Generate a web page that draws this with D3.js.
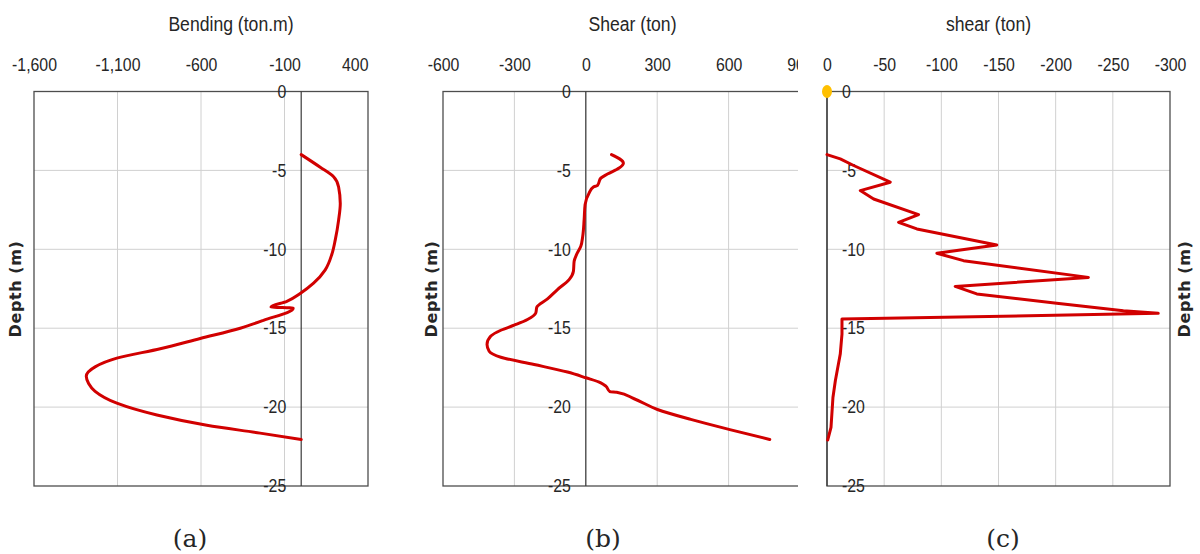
<!DOCTYPE html>
<html>
<head>
<meta charset="utf-8">
<script src="https://cdn.jsdelivr.net/npm/d3@7"></script>
<style>
  body { margin: 0; background: #fff; }
  svg text { font-family: "Liberation Sans", Arial, sans-serif; fill: #262626; }
</style>
</head>
<body>
<div id="chart"></div>
<script>
// depth ticks shared by all three plots
var depthTicks = [0, -5, -10, -15, -20, -25]

// (a) bending moment
var bendTicks = [-1600, -1100, -600, -100, 400]
var bendDepth = [-4.0, -4.8, -5.4, -6.05, -7.1, -8.15, -9.4, -10.3, -11.3, -12.15, -12.8, -13.3, -13.65, -13.73, -14.5, -15.0, -15.65, -16.3, -16.9, -17.45, -18.05, -18.5, -19.0, -19.75, -20.5, -21.15, -21.65, -22.05]
var bendValue = [0, 114, 194, 224, 234, 224, 204, 184, 144, 74, -6, -86, -181, -48, -226, -365, -605, -844, -1104, -1234, -1287, -1273, -1234, -1104, -864, -565, -246, 0]

// (b) shear
var shearTicks = [-600, -300, 0, 300, 600, 900]
var shearDepth = [-4.0, -4.54, -4.85, -5.23, -5.49, -5.95, -6.05, -6.43, -7.17, -8.12, -9.18, -9.81, -10.34, -10.76, -11.39, -11.92, -12.55, -13.14, -13.67, -14.03, -14.45, -14.81, -15.13, -15.5, -16.03, -16.46, -16.84, -17.3, -17.78, -18.14, -18.46, -18.67, -19.03, -19.06, -19.47, -20.15, -20.78, -21.41, -22.05]
var shearValue = [108, 158, 140, 91, 63, 49, 32, 14, -3, -7, -13, -21, -39, -49, -52, -70, -119, -161, -206, -210, -245, -301, -357, -399, -415, -406, -357, -217, -77, 0, 63, 84, 102, 130, 203, 301, 441, 601, 773]

// (c) shear
var shear2Ticks = [0, -50, -100, -150, -200, -250, -300]
var shear2Depth = [-4.0, -4.27, -4.69, -5.75, -6.28, -6.81, -7.8, -8.29, -8.71, -9.73, -10.25, -10.72, -11.78, -12.35, -12.83, -13.42, -13.89, -14.06, -14.42, -15.37, -16.64, -18.33, -19.39, -21.29, -22.09]
var shear2Value = [0, -11.6, -23.3, -55.3, -29.1, -40.8, -80.1, -62.6, -78.6, -148.5, -96.1, -119.4, -228.6, -112.1, -131, -200.9, -259.2, -289.7, -13.1, -13.1, -11.6, -7.3, -5.2, -3.5, -0.6]

var panels = [
  {title: 'Bending (ton.m)', caption: '(a)', ticks: bendTicks, depth: bendDepth, value: bendValue,
   left: 34, right: 368, depthX: 16, depthRight: false, clip: null, curve: d3.curveMonotoneY, lastEnd: true},
  {title: 'Shear (ton)', caption: '(b)', ticks: shearTicks, depth: shearDepth, value: shearValue,
   left: 443, right: 800, depthX: 432, depthRight: false, clip: 798, curve: d3.curveMonotoneY, lastEnd: false},
  {title: 'shear (ton)', caption: '(c)', ticks: shear2Ticks, depth: shear2Depth, value: shear2Value,
   left: 827, right: 1170, depthX: 1185, depthRight: true, clip: null, curve: d3.curveLinear, lastEnd: false}
]

// plain hyphen minus like the original
const fmt = d => d3.format(',')(d).replace('\u2212', '-')

// narrow the text a bit (original font is a condensed one)
function squeeze(sel, f){
    sel.each(function(){
        const w = this.getComputedTextLength()
        d3.select(this).attr('textLength', w * f).attr('lengthAdjust', 'spacingAndGlyphs')
    })
}

drawAll()

function drawAll(){
    const W = 1200, H = 554
    const top = 91.5, bottom = 486

    const svg = d3.select('#chart').append('svg')
        .attr('width', W).attr('height', H)

    svg.append('rect').attr('width', W).attr('height', H).attr('fill', '#fff')

    svg.append('defs').append('clipPath').attr('id', 'clipB')
        .append('rect').attr('x', 400).attr('y', 0).attr('width', 398).attr('height', H)

    panels.forEach((p, pi) => {
        const g = svg.append('g')
        if (p.clip) g.attr('clip-path', 'url(#clipB)')

        const xScale = d3.scaleLinear()
            .domain([p.ticks[0], p.ticks[p.ticks.length - 1]])
            .range([p.left, p.right])
        const yScale = d3.scaleLinear()
            .domain([0, -25])
            .range([top, bottom])

        // grid
        g.append('g').selectAll('line')
            .data(p.ticks.slice(1, -1))
            .enter().append('line')
            .attr('x1', d => xScale(d)).attr('x2', d => xScale(d))
            .attr('y1', top).attr('y2', bottom)
            .attr('stroke', '#d0d0d0').attr('stroke-width', 1)

        g.append('g').selectAll('line')
            .data(depthTicks.slice(1, -1))
            .enter().append('line')
            .attr('x1', p.left).attr('x2', p.right)
            .attr('y1', d => yScale(d)).attr('y2', d => yScale(d))
            .attr('stroke', '#d0d0d0').attr('stroke-width', 1)

        // frame
        g.append('rect')
            .attr('x', p.left).attr('y', top)
            .attr('width', p.right - p.left).attr('height', bottom - top)
            .attr('fill', 'none').attr('stroke', '#4d4d4d').attr('stroke-width', 1.3)

        // zero line (vertical axis)
        g.append('line')
            .attr('x1', xScale(0)).attr('x2', xScale(0))
            .attr('y1', top).attr('y2', bottom)
            .attr('stroke', '#3a3a3a').attr('stroke-width', 1.2)

        // top axis labels
        const xAxis = d3.axisTop(xScale)
            .tickValues(p.ticks)
            .tickSize(0).tickPadding(0)
            .tickFormat(fmt)
        const xg = g.append('g')
            .attr('transform', `translate(0, 71)`)
            .call(xAxis)
        xg.select('.domain').remove()
        xg.selectAll('text')
            .attr('font-size', 18)
            .attr('font-family', null)
            .style('fill', '#262626')
        if (p.lastEnd) {
            xg.selectAll('text').filter((d, i) => i == p.ticks.length - 1).attr('text-anchor', 'end')
        }
        squeeze(xg.selectAll('text'), 0.88)

        // depth labels along the zero line
        const yAxis = (p.depthRight ? d3.axisRight(yScale) : d3.axisLeft(yScale))
            .tickValues(depthTicks)
            .tickSize(0).tickPadding(15)
            .tickFormat(fmt)
        const yg = g.append('g')
            .attr('transform', `translate(${xScale(0)}, 0)`)
            .call(yAxis)
        yg.select('.domain').remove()
        yg.selectAll('text')
            .attr('font-size', 18)
            .attr('font-family', null)
            .style('fill', '#262626')
        squeeze(yg.selectAll('text'), 0.88)

        // title
        const t = svg.append('text')
            .attr('x', (p.left + p.right) / 2 + (pi == 2 ? -10 : (pi == 1 ? 11 : 30)))
            .attr('y', 31)
            .attr('text-anchor', 'middle')
            .attr('font-size', 20)
            .text(p.title)
        squeeze(t, 0.88)

        // depth axis title
        svg.append('text')
            .attr('transform', `translate(${p.depthX + 5}, 289) rotate(-90)`)
            .attr('text-anchor', 'middle')
            .attr('font-size', 16)
            .attr('font-weight', 'bold')
            .attr('letter-spacing', 0.6)
            .style('font-family', '"DejaVu Sans", sans-serif')
            .text('Depth (m)')

        // curve
        const pts = p.depth.map((d, i) => ({depth: d, value: p.value[i]}))
        const line = d3.line()
            .x(d => xScale(d.value))
            .y(d => yScale(d.depth))
            .curve(p.curve)
        g.append('path')
            .datum(pts)
            .attr('fill', 'none')
            .attr('stroke', '#d10000')
            .attr('stroke-width', 3)
            .attr('stroke-linejoin', 'round')
            .attr('stroke-linecap', 'round')
            .attr('d', line)

        // caption
        svg.append('text')
            .attr('x', [190, 603, 1003][pi])
            .attr('y', 547)
            .attr('text-anchor', 'middle')
            .attr('font-size', 25)
            .style('font-family', '"DejaVu Serif", serif')
            .text(p.caption)

        if (pi == 2) {
            svg.append('ellipse')
                .attr('cx', xScale(0)).attr('cy', yScale(0))
                .attr('rx', 5).attr('ry', 6.5)
                .attr('fill', '#ffc000')
        }
    })
}
</script>
</body>
</html>
